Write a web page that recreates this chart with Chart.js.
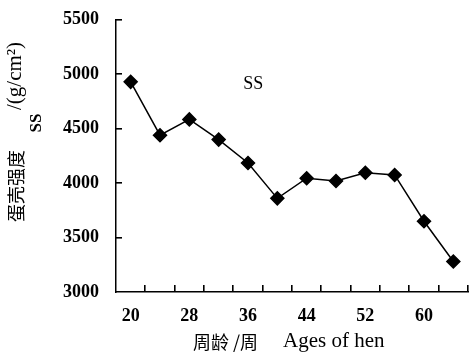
<!DOCTYPE html>
<html>
<head>
<meta charset="utf-8">
<script src="https://cdn.jsdelivr.net/npm/chart.js@4/dist/chart.umd.min.js"></script>
<style>
html,body{margin:0;padding:0;background:#fff;}
#wrap{width:476px;height:358px;}
</style>
</head>
<body>
<div id="wrap"><canvas id="c" width="476" height="358"></canvas></div>
<script>
const ages = [20, 24, 28, 32, 36, 40, 44, 48, 52, 56, 60, 64];
const shellStrength = [4930, 4440, 4585, 4400, 4185, 3860, 4045, 4020, 4095, 4075, 3650, 3280];
const yTicks = [3000, 3500, 4000, 4500, 5000, 5500];
const shownAgeLabels = [20, 28, 36, 44, 52, 60];
const yTitleCn = '蛋壳强度';
const yTitleUnit = '/(g/cm²)';
const yTitleEn = 'SS';
const xTitleCn = '周龄 /周';
const xTitleEn = 'Ages of hen';
const insideLabel = 'SS';

const serif = '"Liberation Serif", "Times New Roman", serif';
const cjkFont = '"Noto Sans CJK SC", sans-serif';

const annotate = {
  id: 'annotate',
  afterDraw(chart) {
    const ctx = chart.ctx;
    const xs = chart.scales.x, ys = chart.scales.y;
    const left = xs.left, right = xs.right;
    const bottom = ys.bottom;
    const n = ages.length;
    const step = (right - left) / n;
    ctx.save();
    ctx.fillStyle = '#000';
    for (let i = 1; i <= n; i++) {
      const x = Math.round(left + i * step);
      ctx.fillRect(x - 1, bottom - 7, 1.6, 7);
    }
    for (let k = 1; k < yTicks.length; k++) {
      const y = Math.round(ys.getPixelForValue(yTicks[k]));
      ctx.fillRect(left, y - 1, 6, 1.6);
    }
    ctx.textBaseline = 'middle';
    ctx.font = '18px ' + serif;
    ctx.textAlign = 'center';
    ctx.fillText(insideLabel, xs.getPixelForValue(4) + 0.18 * step, ys.getPixelForValue(4910));
    ctx.save();
    ctx.translate(15, 0);
    ctx.rotate(-Math.PI / 2);
    ctx.textAlign = 'left';
    ctx.font = '18px ' + cjkFont;
    ctx.fillText(yTitleCn, -222, 1);
    ctx.font = '21px ' + serif;
    ctx.fillText(yTitleUnit, -110, 0);
    ctx.textAlign = 'center';
    ctx.font = 'bold 17px ' + serif;
    ctx.fillText(yTitleEn, -123, 22);
    ctx.restore();
    ctx.textAlign = 'left';
    ctx.font = '18px ' + cjkFont;
    ctx.fillText(xTitleCn, 193, 342);
    ctx.font = '21px ' + serif;
    ctx.fillText(xTitleEn, 283, 341);
    ctx.restore();
  }
};

new Chart(document.getElementById('c'), {
  type: 'line',
  data: {
    labels: ages,
    datasets: [{
      data: shellStrength,
      borderColor: '#000',
      backgroundColor: '#000',
      borderWidth: 1.5,
      pointStyle: 'rectRot',
      pointRadius: 6.5,
      pointHoverRadius: 6.5,
      tension: 0,
      fill: false
    }]
  },
  options: {
    responsive: false,
    devicePixelRatio: 1,
    animation: false,
    layout: { padding: { left: 0, right: 7, top: 10, bottom: 0 } },
    plugins: { legend: { display: false }, tooltip: { enabled: false } },
    scales: {
      x: {
        type: 'category',
        offset: true,
        grid: { display: false, offset: true },
        border: { display: true, color: '#000', width: 1.5 },
        ticks: {
          autoSkip: false, maxRotation: 0, padding: 6, color: '#000',
          font: { family: serif, size: 18, weight: 'bold' },
          callback: function (val, idx) {
            const a = ages[idx];
            return shownAgeLabels.includes(a) ? String(a) : '';
          }
        },
        afterFit(scale) { scale.height = 66; }
      },
      y: {
        min: 3000, max: 5500,
        afterBuildTicks(scale) { scale.ticks = yTicks.map(v => ({ value: v })); },
        grid: { display: false },
        border: { display: true, color: '#000', width: 1.5 },
        ticks: {
          padding: 9, color: '#000',
          font: { family: serif, size: 18, weight: 'bold' },
          callback: function (v) { return String(v); }
        },
        afterFit(scale) { scale.width = 116; }
      }
    }
  },
  plugins: [annotate]
});
</script>
</body>
</html>
